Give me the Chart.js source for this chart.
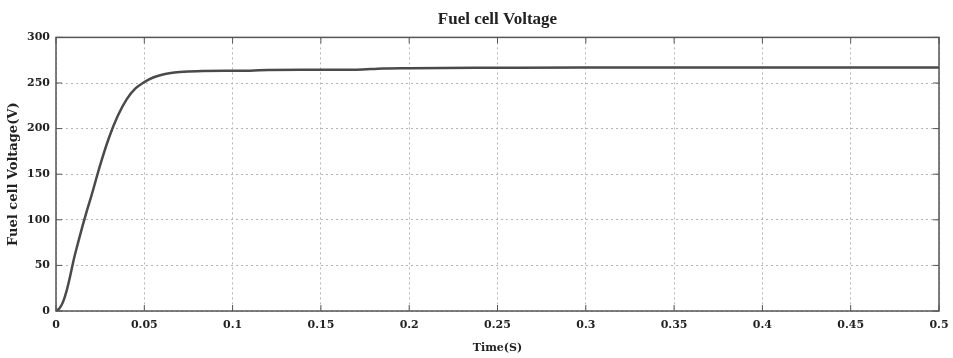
<!DOCTYPE html>
<html>
<head>
<meta charset="utf-8">
<script src="https://cdn.jsdelivr.net/npm/chart.js@4/dist/chart.umd.min.js"></script>
<style>
  html, body { margin: 0; padding: 0; background: #fff; }
  #wrap { width: 953px; height: 358px; }
</style>
</head>
<body>
<div id="wrap"><canvas id="c" width="953" height="358"></canvas></div>
<script>
// values
const time = [0, 0.002, 0.004, 0.006, 0.008, 0.01, 0.0125, 0.015, 0.0175, 0.02, 0.025, 0.03, 0.035, 0.04, 0.045, 0.05, 0.055, 0.06, 0.065, 0.07, 0.08, 0.1, 0.11, 0.12, 0.14, 0.17, 0.185, 0.2, 0.25, 0.3, 0.35, 0.4, 0.45, 0.5];
const voltage = [0, 3, 10, 22, 38, 56, 75, 93, 110, 126, 160, 190, 214, 232, 244, 251, 256, 259, 261, 262, 263, 263.4, 263.5, 264.3, 264.5, 264.6, 266, 266.3, 266.7, 267, 267, 267, 267, 267];
const xTicks = [0, 0.05, 0.1, 0.15, 0.2, 0.25, 0.3, 0.35, 0.4, 0.45, 0.5];
const yTicks = [0, 50, 100, 150, 200, 250, 300];

const serif = "'Liberation Serif', 'DejaVu Serif', serif";
const wide = "'DejaVu Serif', serif";
const points = time.map((t, i) => ({ x: t, y: voltage[i] }));

// MATLAB-style box and inward ticks
const boxPlugin = {
  id: 'box',
  afterDraw(chart) {
    const { ctx, chartArea: a, scales } = chart;
    ctx.save();
    ctx.strokeStyle = '#555';
    ctx.lineWidth = 1.5;
    ctx.setLineDash([]);
    ctx.strokeRect(a.left, a.top, a.right - a.left, a.bottom - a.top);
    ctx.lineWidth = 1;
    const len = 6;
    xTicks.forEach(v => {
      const px = scales.x.getPixelForValue(v);
      ctx.beginPath();
      ctx.moveTo(px, a.bottom); ctx.lineTo(px, a.bottom - len);
      ctx.moveTo(px, a.top); ctx.lineTo(px, a.top + len);
      ctx.stroke();
    });
    yTicks.forEach(v => {
      const py = scales.y.getPixelForValue(v);
      ctx.beginPath();
      ctx.moveTo(a.left, py); ctx.lineTo(a.left + len, py);
      ctx.moveTo(a.right, py); ctx.lineTo(a.right - len, py);
      ctx.stroke();
    });
    ctx.restore();
  }
};

new Chart(document.getElementById('c'), {
  type: 'line',
  data: {
    datasets: [{
      data: points,
      borderColor: '#4a4a4a',
      borderWidth: 2.5,
      pointRadius: 0,
      cubicInterpolationMode: 'monotone',
      fill: false
    }]
  },
  options: {
    responsive: false,
    animation: false,
    layout: { padding: { left: 0, right: 14, top: 6, bottom: 0 } },
    plugins: {
      legend: { display: false },
      tooltip: { enabled: false },
      title: {
        display: true,
        text: 'Fuel cell Voltage',
        fullSize: false,
        color: '#222',
        font: { family: serif, size: 17, weight: 'bold' },
        padding: { top: 3, bottom: 8 }
      }
    },
    scales: {
      x: {
        type: 'linear',
        min: 0,
        max: 0.5,
        afterBuildTicks: s => { s.ticks = xTicks.map(v => ({ value: v })); },
        afterFit: s => { s.height = 47; s.paddingLeft = 0; s.paddingRight = 0; },
        ticks: {
          color: '#222',
          font: { family: wide, size: 11, weight: 'bold' },
          padding: 8,
          maxRotation: 0,
          callback: v => String(v)
        },
        grid: { color: '#b5b5b5', lineWidth: 1, drawTicks: false },
        border: { display: false, dash: [2, 3] },
        title: {
          display: true,
          text: 'Time(S)',
          color: '#222',
          font: { family: wide, size: 11, weight: 'bold' },
          padding: { top: 4, bottom: 3 }
        }
      },
      y: {
        min: 0,
        max: 300,
        afterBuildTicks: s => { s.ticks = yTicks.map(v => ({ value: v })); },
        afterFit: s => { s.width = 56; s.paddingTop = 0; s.paddingBottom = 0; },
        ticks: {
          color: '#222',
          font: { family: wide, size: 11, weight: 'bold' },
          padding: 6
        },
        grid: { color: '#b5b5b5', lineWidth: 1, drawTicks: false },
        border: { display: false, dash: [2, 3] },
        title: {
          display: true,
          text: 'Fuel cell Voltage(V)',
          color: '#222',
          font: { family: wide, size: 13, weight: 'bold' },
          padding: { top: 6, bottom: 2 }
        }
      }
    }
  },
  plugins: [boxPlugin]
});
</script>
</body>
</html>
